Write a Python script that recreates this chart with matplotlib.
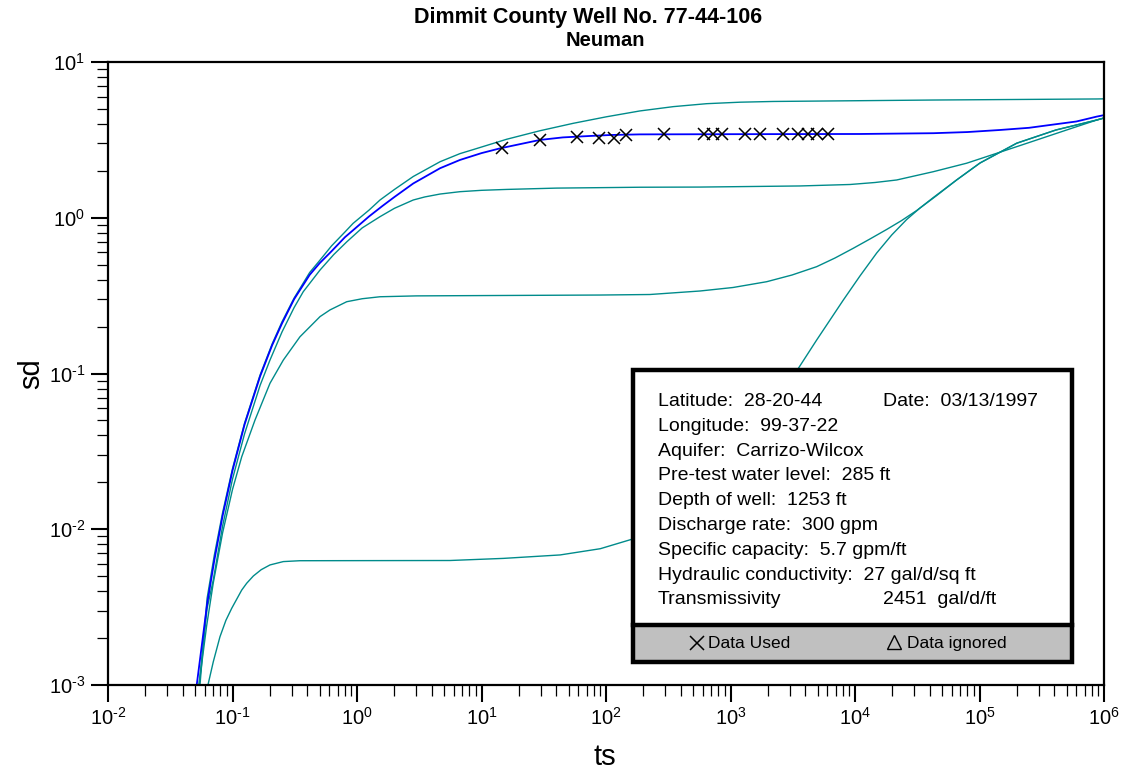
import matplotlib
matplotlib.use("Agg")
import matplotlib.pyplot as plt
from matplotlib.patches import Rectangle
from matplotlib.lines import Line2D
from matplotlib.ticker import FixedLocator, FuncFormatter, NullFormatter
import numpy as np

plt.rcParams['font.family'] = ['Liberation Sans', 'DejaVu Sans']
plt.rcParams['mathtext.fontset'] = 'custom'
plt.rcParams['mathtext.rm'] = 'Liberation Sans'
plt.rcParams['mathtext.it'] = 'Liberation Sans:italic'
plt.rcParams['mathtext.bf'] = 'Liberation Sans:bold'

# ---------------- data ----------------
top_ts = [0.0548, 0.0625, 0.0714, 0.0833, 0.1, 0.125, 0.1667, 0.2083, 0.25, 0.3125, 0.4167,
          0.5, 0.625, 0.8, 0.93, 1.25, 1.53, 2.0, 2.83, 4.65, 6.71, 8.59, 15.9, 29.5, 54.6,
          101, 187, 348, 644, 1191, 2210, 10000, 42600, 873000, 1000000]
top_sd = [0.001, 0.0036, 0.0068, 0.0128, 0.0245, 0.048, 0.098, 0.155, 0.215, 0.305, 0.445,
          0.53, 0.66, 0.81, 0.92, 1.12, 1.30, 1.52, 1.84, 2.29, 2.58, 2.74, 3.19, 3.62, 4.04,
          4.45, 4.85, 5.17, 5.40, 5.52, 5.58, 5.64, 5.70, 5.79, 5.80]

fit_ts = [0.0516, 0.0625, 0.0714, 0.0833, 0.1, 0.125, 0.1667, 0.2083, 0.25, 0.3125, 0.4167,
          0.5, 0.625, 0.8, 0.934, 1.25, 1.6, 2.0, 2.83, 4.65, 6.71, 10, 14.1, 29.5, 45, 74.3,
          110, 187, 1000, 10960, 42600, 80000, 146000, 250000, 368000, 600000, 873000, 1000000]
fit_sd = [0.001, 0.0033, 0.0063, 0.0122, 0.0238, 0.047, 0.096, 0.152, 0.21, 0.30, 0.43,
          0.51, 0.61, 0.75, 0.834, 1.02, 1.19, 1.36, 1.66, 2.08, 2.35, 2.60, 2.79, 3.16, 3.28,
          3.35, 3.40, 3.43, 3.44, 3.45, 3.49, 3.55, 3.66, 3.78, 3.94, 4.15, 4.46, 4.56]

mid_ts = [0.0538, 0.0625, 0.07, 0.0833, 0.1, 0.125, 0.1667, 0.2, 0.25, 0.3125, 0.37, 0.505,
          0.65, 0.827, 1.1, 1.53, 2.0, 2.83, 3.5, 4.65, 6.71, 10, 15.9, 40, 187, 569, 3614,
          9120, 14490, 21630, 42600, 78900, 199000, 501000, 873000, 1000000]
mid_sd = [0.001, 0.0031, 0.0047, 0.0105, 0.021, 0.041, 0.084, 0.122, 0.185, 0.265, 0.335, 0.462,
          0.58, 0.70, 0.86, 1.016, 1.15, 1.30, 1.36, 1.42, 1.47, 1.50, 1.52, 1.55, 1.57, 1.574,
          1.60, 1.635, 1.684, 1.748, 1.976, 2.24, 2.86, 3.66, 4.24, 4.37]

low_ts = [0.0538, 0.062, 0.07, 0.0833, 0.1, 0.1186, 0.1517, 0.2, 0.256, 0.348, 0.505, 0.607,
          0.827, 1.1, 1.53, 3.0, 6.71, 89.5, 225, 569, 1047, 1954, 3119, 4920, 6905, 9680,
          13190, 17950, 23700, 31300, 44770, 65600, 100900, 199000, 411000, 873000, 1000000]
low_sd = [0.001, 0.0024, 0.0045, 0.0095, 0.018, 0.0292, 0.0503, 0.0865, 0.122, 0.172, 0.232,
          0.256, 0.289, 0.302, 0.311, 0.315, 0.316, 0.319, 0.3215, 0.3386, 0.3566, 0.3885,
          0.4289, 0.4851, 0.5514, 0.6367, 0.7306, 0.8406, 0.960, 1.113, 1.379, 1.75, 2.246,
          3.01, 3.66, 4.24, 4.37]

bot_ts = [0.0635, 0.0701, 0.0793, 0.0885, 0.0986, 0.1186, 0.13, 0.147, 0.17, 0.2, 0.256, 0.348,
          5.58, 15, 42.8, 90, 161, 569, 1726, 3510, 4920, 8050, 10965, 14940, 19720, 26000,
          33270, 42600, 65600, 100900, 199000, 411000, 873000, 1000000]
bot_sd = [0.001, 0.00141, 0.00204, 0.0026, 0.00311, 0.00407, 0.0045, 0.00501, 0.0055, 0.0059,
          0.0062, 0.00628, 0.0063, 0.0065, 0.00684, 0.0075, 0.00862, 0.0166, 0.0427, 0.108,
          0.164, 0.296, 0.423, 0.594, 0.775, 0.974, 1.155, 1.349, 1.75, 2.246, 3.01, 3.66,
          4.24, 4.37]

data_ts = [14.6, 29.5, 58.5, 87.9, 116, 145, 292, 613, 723, 855, 1307, 1726, 2642, 3484,
           4190, 4955, 6067]
data_sd = [2.82, 3.14, 3.29, 3.25, 3.27, 3.41, 3.43, 3.43, 3.43, 3.43, 3.43, 3.43, 3.43, 3.43,
           3.43, 3.43, 3.43]

x_ticks = [1e-2, 1e-1, 1e0, 1e1, 1e2, 1e3, 1e4, 1e5, 1e6]
y_ticks = [1e-3, 1e-2, 1e-1, 1e0, 1e1]

info_left = ["Latitude:  28-20-44", "Longitude:  99-37-22", "Aquifer:  Carrizo-Wilcox",
             "Pre-test water level:  285 ft", "Depth of well:  1253 ft",
             "Discharge rate:  300 gpm", "Specific capacity:  5.7 gpm/ft",
             "Hydraulic conductivity:  27 gal/d/sq ft", "Transmissivity"]
info_right = {0: "Date:  03/13/1997", 8: "2451  gal/d/ft"}

title1 = "Dimmit County Well No. 77-44-106"
title2 = "Neuman"
x_label = "ts"
y_label = "sd"

# ---------------- figure ----------------
W, H = 1125, 774
fig = plt.figure(figsize=(W / 100, H / 100), dpi=100)

def fx(px):
    return px / W

def fy(py):
    return 1 - py / H

ax = fig.add_axes([fx(108), fy(685), fx(1104) - fx(108), fy(62) - fy(685)])
ax.set_xscale('log')
ax.set_yscale('log')
ax.set_xlim(x_ticks[0], x_ticks[-1])
ax.set_ylim(y_ticks[0], y_ticks[-1])

teal = '#008b8b'
for xs, ys in [(top_ts, top_sd), (mid_ts, mid_sd), (low_ts, low_sd), (bot_ts, bot_sd)]:
    ax.plot(xs, ys, color=teal, lw=1.0, solid_joinstyle='round')
ax.plot(fit_ts, fit_sd, color='#0000ff', lw=1.3, solid_joinstyle='round')
ax.plot(data_ts, data_sd, linestyle='none', marker='x', color='black', ms=8.5, mew=1.1)

for s in ax.spines.values():
    s.set_linewidth(1.6)

def minors(majors):
    out = []
    for m in majors[:-1]:
        out.extend([m * k for k in range(2, 10)])
    return out

ax.xaxis.set_major_locator(FixedLocator(x_ticks))
ax.yaxis.set_major_locator(FixedLocator(y_ticks))
ax.xaxis.set_minor_locator(FixedLocator(minors(x_ticks)))
ax.yaxis.set_minor_locator(FixedLocator(minors(y_ticks)))

def fmt_func(v, p):
    e = int(round(np.log10(v)))
    return r'$10^{\text{%d}}$' % e

fmt = FuncFormatter(fmt_func)
ax.xaxis.set_major_formatter(fmt)
ax.yaxis.set_major_formatter(fmt)
ax.xaxis.set_minor_formatter(NullFormatter())
ax.yaxis.set_minor_formatter(NullFormatter())
ax.tick_params(which='major', direction='out', length=12.5, width=1.5, labelsize=14.5, pad=3)
ax.tick_params(which='minor', direction='out', length=8, width=0.9)
ax.tick_params(axis='y', which='major', pad=4)

fig.text(fx(605), fy(757), x_label, ha='center', va='center', fontsize=21)
fig.text(fx(31), fy(374), y_label, ha='center', va='center', fontsize=21, rotation=90)

# titles
fig.text(fx(588), fy(17), title1, ha='center', va='center', fontsize=15.5, fontweight='bold')
fig.text(fx(605), fy(40), title2, ha='center', va='center', fontsize=14.5, fontweight='bold')

# info box
bx0, bx1, by0, by1, bdiv = 633, 1072, 370, 662, 625
fig.add_artist(Rectangle((fx(bx0), fy(by1)), fx(bx1) - fx(bx0), fy(bdiv) - fy(by1),
                         transform=fig.transFigure, facecolor='#c0c0c0', edgecolor='none',
                         zorder=5))
fig.add_artist(Rectangle((fx(bx0), fy(bdiv)), fx(bx1) - fx(bx0), fy(by0) - fy(bdiv),
                         transform=fig.transFigure, facecolor='white', edgecolor='none',
                         zorder=5))
fig.add_artist(Rectangle((fx(bx0), fy(by1)), fx(bx1) - fx(bx0), fy(by0) - fy(by1),
                         transform=fig.transFigure, facecolor='none', edgecolor='black',
                         lw=3.2, zorder=6))
fig.add_artist(Line2D([fx(bx0), fx(bx1)], [fy(bdiv), fy(bdiv)], transform=fig.transFigure,
                      color='black', lw=3.2, zorder=6))

line_y0, line_dy = 401.5, 24.8
for i, txt in enumerate(info_left):
    fig.text(fx(658), fy(line_y0 + i * line_dy), txt, ha='left', va='center', fontsize=14,
             zorder=7)
for i, txt in info_right.items():
    fig.text(fx(883), fy(line_y0 + i * line_dy), txt, ha='left', va='center', fontsize=14,
             zorder=7)

fig.add_artist(Line2D([fx(697)], [fy(643)], transform=fig.transFigure, marker='x', color='black',
                      ms=10, mew=1.1, linestyle='none', zorder=7))
fig.text(fx(708), fy(643.5), "Data Used", ha='left', va='center', fontsize=12.5, zorder=7)
fig.add_artist(Line2D([fx(894)], [fy(642)], transform=fig.transFigure, marker='^', color='black',
                      markerfacecolor='none', ms=10, mew=1.0, linestyle='none', zorder=7))
fig.text(fx(907), fy(643.5), "Data ignored", ha='left', va='center', fontsize=12.5, zorder=7)

fig.savefig('out.png', dpi=100)
